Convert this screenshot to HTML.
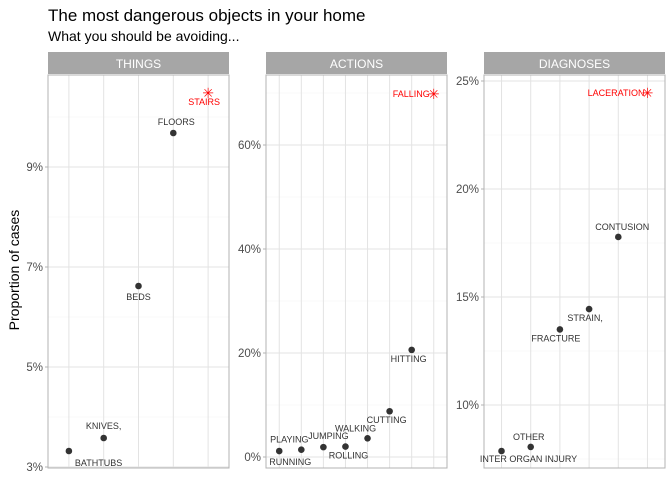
<!DOCTYPE html>
<html><head><meta charset="utf-8"><style>
body{margin:0;background:#fff;font-family:"Liberation Sans",sans-serif}
svg text{font-family:"Liberation Sans",sans-serif}
</style></head><body>
<svg id="c" width="672" height="480" xmlns="http://www.w3.org/2000/svg">
<text x="48" y="21" font-size="17" fill="#000">The most dangerous objects in your home</text>
<text x="48" y="41" font-size="14" fill="#000">What you should be avoiding...</text>
<text transform="translate(19,270) rotate(-90)" text-anchor="middle" font-size="14" fill="#000">Proportion of cases</text>
</svg>
<script>
const thingsCats=["BATHTUBS","KNIVES,","BEDS","FLOORS","STAIRS"];
const thingsVals=[3.32,3.58,6.62,9.68,10.48];
const thingsTicks=[3,5,7,9];
const actionsCats=["RUNNING","PLAYING","JUMPING","ROLLING","WALKING","CUTTING","HITTING","FALLING"];
const actionsVals=[1.15,1.4,1.9,2.0,3.6,8.8,20.6,69.8];
const actionsTicks=[0,20,40,60];
const diagCats=["INTER ORGAN INJURY","OTHER","FRACTURE","STRAIN,","CONTUSION","LACERATION"];
const diagVals=[7.87,8.06,13.5,14.44,17.78,24.44];
const diagTicks=[10,15,20,25];

const svg=document.getElementById('c');
const NS="http://www.w3.org/2000/svg";
function el(t,a,p){const e=document.createElementNS(NS,t);for(const k in a)e.setAttribute(k,a[k]);(p||svg).appendChild(e);return e;}
const yTop=75,yBot=468;
const offs={
 things:[[6,15,'start'],[0,-9,'middle'],[0,14,'middle'],[3,-8,'middle'],[-4,12,'middle']],
 actions:[[11,14,'middle'],[-12,-7,'middle'],[5,-8,'middle'],[3,12,'middle'],[-12,-7,'middle'],[-3,12,'middle'],[-3,12,'middle'],[-4,3,'end']],
 diag:[[27,11,'middle'],[-2,-7,'middle'],[-4,12,'middle'],[-4,12,'middle'],[4,-7,'middle'],[-3,3,'end']]
};
function panel(name,x0,x1,ymin,ymax,cats,vals,ticks,minorStep,off){
 const g=el('g',{});
 
 
 const n=cats.length;
 const xs=i=>x0+(i+1-0.4)/(n+0.2)*(x1-x0);
 const ys=v=>yBot-(v-ymin)/(ymax-ymin)*(yBot-yTop);
 const s=el('rect',{x:x0,y:52,width:x1-x0,height:22,fill:'#a6a6a6'},g);
 
 
 const st=el('text',{x:(x0+x1)/2,y:68,'text-anchor':'middle','font-size':12,fill:'#fff'},g);
 st.textContent=name.toUpperCase();
 
 
 const start=Math.ceil(ymin/minorStep)*minorStep;
 for(let v=start;v<=ymax;v+=minorStep){
  if(ticks.some(t=>Math.abs(t-v)<1e-6))continue;
  el('line',{x1:x0,x2:x1,y1:ys(v),y2:ys(v),stroke:'#f2f2f2','stroke-width':0.6},g);
 }
 ticks.forEach(t=>{
  el('line',{x1:x0,x2:x1,y1:ys(t),y2:ys(t),stroke:'#e3e3e3','stroke-width':1},g);
  el('line',{x1:x0-3,x2:x0,y1:ys(t),y2:ys(t),stroke:'#b3b3b3','stroke-width':1},g);
  const tl=el('text',{x:x0-5,y:ys(t)+4,'text-anchor':'end','font-size':11.5,fill:'#4d4d4d'},g);
  tl.textContent=t+'%';
  
  
 });
 cats.forEach((c,i)=>el('line',{x1:xs(i),x2:xs(i),y1:yTop,y2:yBot,stroke:'#e3e3e3','stroke-width':1},g));
 el('rect',{x:x0,y:yTop,width:x1-x0,height:yBot-yTop,fill:'none',stroke:'#b3b3b3','stroke-width':1},g);
 cats.forEach((c,i)=>{
  const x=xs(i),y=ys(vals[i]);
  const last=i===n-1;
  if(last){
   const star=el('text',{x:x,y:y+5,'text-anchor':'middle','font-size':14,fill:'#ff0000'},g);
   star.textContent='✳';
   
   
  }else{
   const p=el('circle',{cx:x,cy:y,r:3.3,fill:'#333'},g);
   
   
  }
  const o=off[i];
  const t=el('text',{x:x+o[0],y:y+o[1],'text-anchor':o[2],'font-size':9,fill:last?'#ff0000':'#333'},g);
  t.textContent=c;
  
  
 });
}
panel('things',48,229,3-(468-467)/50,3+(467-75)/50,thingsCats,thingsVals,thingsTicks,1,offs.things);
panel('actions',266,447,-(468-457)/5.2,(457-75)/5.2,actionsCats,actionsVals,actionsTicks,10,offs.actions);
panel('diagnoses',484,665,10-(468-405)/21.6,10+(405-75)/21.6,diagCats,diagVals,diagTicks,2.5,offs.diag);
</script>
</body></html>
